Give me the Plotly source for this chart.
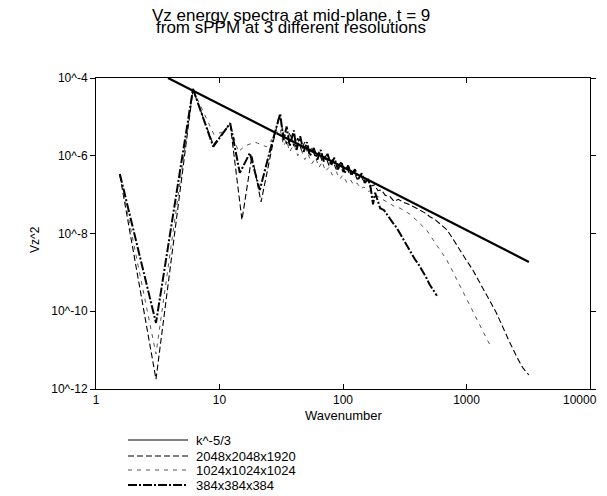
import plotly.graph_objects as go

# ---------------- data ----------------
k_ref = [3.83, 3200]
v_ref = [1.0e-4, 1.86e-9]

k_2048 = [1.56, 3.06, 6.1, 8.9, 12.2, 15.2, 18.3, 21.7, 27, 30.5, 33, 35, 37, 40, 43, 46, 49, 52, 56, 60,
          64, 68, 72, 77, 82, 88, 94, 100, 107, 114, 122, 130, 139, 148, 158, 168, 180, 192, 205, 220,
          240, 260, 280, 310, 340, 370, 410, 460, 506, 560, 620, 692, 780, 870, 980, 1125, 1280, 1450,
          1600, 1744, 1950, 2200, 2550, 2850, 3200]
v_2048 = [3.16e-7, 1.78e-12, 5.01e-5, 1.91e-6, 6.61e-6, 2.24e-8, 1.0e-6, 6.46e-8, 2.0e-6, 1.12e-5,
          3.55e-6, 2.0e-6, 3.98e-6, 1.78e-6, 2.82e-6, 1.41e-6, 2.24e-6, 1.12e-6, 1.58e-6, 8.91e-7,
          1.26e-6, 7.08e-7, 1.0e-6, 5.62e-7, 7.94e-7, 4.47e-7, 6.31e-7, 3.80e-7, 5.01e-7, 3.16e-7,
          3.98e-7, 2.51e-7, 3.16e-7, 2.09e-7, 2.40e-7, 1.66e-7, 1.78e-7, 1.26e-7, 1.32e-7, 9.55e-8,
          8.91e-8, 6.61e-8, 7.59e-8, 6.31e-8, 5.62e-8, 5.01e-8, 4.17e-8, 3.39e-8, 2.69e-8, 2.24e-8,
          1.70e-8, 1.26e-8, 7.08e-9, 3.98e-9, 2.24e-9, 1.15e-9, 5.62e-10, 2.82e-10, 1.51e-10, 9.12e-11,
          3.98e-11, 1.78e-11, 6.76e-12, 3.55e-12, 2.29e-12]

k_1024 = [1.56, 3.06, 6.1, 9.0, 10.7, 12.2, 14.2, 16, 19.4, 24, 27, 31, 33, 35, 37, 40, 43, 46, 49, 52,
          56, 60, 64, 68, 72, 77, 82, 88, 94, 100, 107, 114, 122, 130, 139, 148, 158, 168, 180, 192,
          205, 220, 240, 260, 290, 320, 348, 400, 478, 560, 620, 692, 780, 870, 970, 1070, 1200, 1350,
          1480, 1585]
v_1024 = [3.16e-7, 7.94e-12, 5.01e-5, 3.55e-6, 4.07e-6, 6.31e-6, 1.26e-6, 1.78e-6, 2.24e-6, 1.70e-6,
          2.82e-6, 5.01e-6, 1.78e-6, 2.51e-6, 1.26e-6, 2.0e-6, 1.0e-6, 1.41e-6, 7.94e-7, 1.12e-6,
          6.31e-7, 8.91e-7, 5.01e-7, 7.08e-7, 3.98e-7, 5.01e-7, 3.16e-7, 3.98e-7, 2.51e-7, 3.16e-7,
          2.09e-7, 2.51e-7, 1.78e-7, 2.0e-7, 1.41e-7, 1.58e-7, 1.20e-7, 1.26e-7, 1.0e-7, 8.91e-8,
          7.94e-8, 7.08e-8, 6.03e-8, 5.01e-8, 4.47e-8, 3.80e-8, 3.16e-8, 2.09e-8, 1.20e-8, 5.62e-9,
          3.55e-9, 2.09e-9, 1.0e-9, 5.01e-10, 2.51e-10, 1.29e-10, 6.31e-11, 3.16e-11, 1.78e-11, 1.20e-11]

k_384 = [1.56, 3.06, 6.1, 8.9, 12.2, 14.6, 17.6, 21.2, 27, 31, 33, 35, 37, 40, 42, 45, 48, 51, 54, 58,
         62, 66, 70, 75, 80, 85, 91, 97, 103, 110, 117, 125, 133, 142, 150, 160, 168, 175, 182, 190,
         200, 215, 230, 250, 272, 295, 320, 350, 380, 410, 444, 475, 500, 540, 576]
v_384 = [3.39e-7, 5.0e-11, 5.25e-5, 1.70e-6, 6.9e-6, 3.63e-7, 1.17e-6, 1.32e-7, 2.51e-6, 1.20e-5,
         2.51e-6, 5.62e-6, 1.78e-6, 4.47e-6, 1.41e-6, 3.16e-6, 1.26e-6, 2.24e-6, 1.0e-6, 1.58e-6,
         7.94e-7, 1.41e-6, 7.08e-7, 1.12e-6, 5.62e-7, 8.91e-7, 4.47e-7, 7.08e-7, 3.55e-7, 5.62e-7,
         3.16e-7, 4.47e-7, 2.51e-7, 3.55e-7, 2.0e-7, 2.51e-7, 1.41e-7, 5.62e-8, 1.12e-7, 7.08e-8,
         4.47e-8, 3.98e-8, 2.82e-8, 2.0e-8, 1.41e-8, 8.91e-9, 5.62e-9, 3.55e-9, 2.24e-9, 1.58e-9,
         1.05e-9, 7.08e-10, 5.01e-10, 3.55e-10, 2.51e-10]

x_tickvals = [1, 10, 100, 1000, 10000]
x_ticktext = ["1", "10", "100", "1000", ""]
x_last_label = "10000"
y_tickvals = [1e-12, 1e-10, 1e-8, 1e-6, 1e-4]
y_ticktext = ["10^-12", "10^-10", "10^-8", "10^-6", "10^-4"]

legend_names = ["k^-5/3", "2048x2048x1920", "1024x1024x1024", "384x384x384"]

FONT = "Arial, Liberation Sans, Helvetica, sans-serif"

# ---------------- figure ----------------
styles = [
    dict(color="black", width=2.2, dash="solid"),
    dict(color="black", width=1.1, dash="6px,3px"),
    dict(color="#555555", width=1.0, dash="4px,5px"),
    dict(color="black", width=2.0, dash="9px,2px,2px,2px"),
]
legend_styles = [
    dict(color="black", width=1.0, dash="solid"),
    dict(color="black", width=1.1, dash="6px,3px"),
    dict(color="#555555", width=1.0, dash="4px,5px"),
    dict(color="black", width=1.8, dash="9px,2px,2px,2px"),
]

fig = go.Figure()
series = [(k_ref, v_ref), (k_2048, v_2048), (k_1024, v_1024), (k_384, v_384)]
for (kx, vy), st, nm in zip(series, styles, legend_names):
    fig.add_trace(go.Scatter(x=kx, y=vy, mode="lines", line=st, name=nm, showlegend=False))

# page offset of the figure inside the browser window (body margin)
OFF = 8
W, H = 607 - OFF, 496 - OFF
L, T = 96 - OFF, 78 - OFF
R = W - (590 - OFF)
B = H - (389 - OFF)
pw, ph = W - L - R, H - T - B


def px(x):
    return (x - OFF - L) / pw


def py(y):
    return (H - B - (y - OFF)) / ph


axis_common = dict(showline=True, linecolor="black", linewidth=1, mirror="ticks",
                   showgrid=False, zeroline=False, ticklen=5, tickcolor="black",
                   tickfont=dict(family=FONT, size=12, color="black"))

fig.update_xaxes(type="log", range=[0, 4], tickmode="array", tickvals=x_tickvals,
                 ticktext=x_ticktext, ticks="inside", **axis_common)
fig.update_yaxes(type="log", range=[-12, -4], tickmode="array", tickvals=y_tickvals,
                 ticktext=y_ticktext, ticks="outside", **axis_common)

annotations = [
    dict(text="Vz energy spectra at mid-plane, t = 9", x=px(291), y=py(15), xref="paper", yref="paper",
         xanchor="center", yanchor="middle", showarrow=False, font=dict(family=FONT, size=17, color="black")),
    dict(text="from sPPM at 3 different resolutions", x=px(291), y=py(27), xref="paper", yref="paper",
         xanchor="center", yanchor="middle", showarrow=False, font=dict(family=FONT, size=17, color="black")),
    dict(text="Vz^2", x=px(35), y=py(240), xref="paper", yref="paper", textangle=-90,
         xanchor="center", yanchor="middle", showarrow=False, font=dict(family=FONT, size=12, color="black")),
    dict(text="Wavenumber", x=px(343), y=py(415), xref="paper", yref="paper",
         xanchor="center", yanchor="middle", showarrow=False, font=dict(family=FONT, size=13, color="black")),
    # last x tick label, kept fully inside the visible page
    dict(text=x_last_label, x=px(599), y=py(400), xref="paper", yref="paper",
         xanchor="right", yanchor="middle", showarrow=False, font=dict(family=FONT, size=12, color="black")),
]
shapes = []
rows = [440, 456, 470, 485]
for nm, st, ry in zip(legend_names, legend_styles, rows):
    shapes.append(dict(type="line", xref="paper", yref="paper", x0=px(128), x1=px(188),
                       y0=py(ry), y1=py(ry), line=st))
    annotations.append(dict(text=nm, x=px(194), y=py(ry), xref="paper", yref="paper",
                            xanchor="left", yanchor="middle", showarrow=False,
                            font=dict(family=FONT, size=13, color="black")))

fig.update_layout(width=W, height=H, margin=dict(l=L, r=R, t=T, b=B, autoexpand=False),
                  paper_bgcolor="white", plot_bgcolor="white", showlegend=False,
                  annotations=annotations, shapes=shapes)

fig.write_html("out.html")
